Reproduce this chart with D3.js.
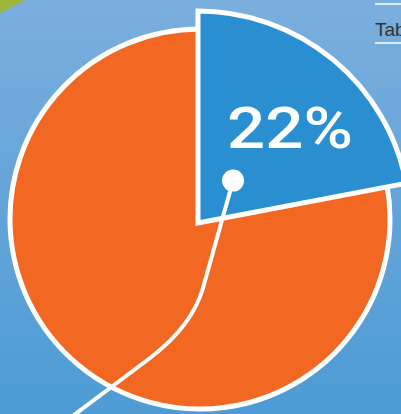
<!doctype HTML>
<html>
<head>
    <style>
        body { margin: 0; overflow: hidden; }
    </style>
    <script src="https://d3js.org/d3.v7.min.js"></script>
</head>
<body>
<div id="chart"></div>
<script>

    // chart data
    var categories = ["Share", "Rest"];
    var values = [22, 78];
    var labels = ["22%", ""];
    var colors = ["#2a8fd0", "#f26722"];

    var canvasWidth = 401;
    var canvasHeight = 414;

    var svg = d3.select("#chart").append("svg")
        .attr("width", canvasWidth)
        .attr("height", canvasHeight)

    // background gradient
    var defs = svg.append("defs");
    var grad = defs.append("linearGradient")
        .attr("id", "bg")
        .attr("x1", 0).attr("y1", 0)
        .attr("x2", 0).attr("y2", 1);
    grad.append("stop").attr("offset", "0%").attr("stop-color", "#7aaedd");
    grad.append("stop").attr("offset", "100%").attr("stop-color", "#4d9bd5");

    svg.append("rect")
        .attr("width", canvasWidth)
        .attr("height", canvasHeight)
        .attr("fill", "url(#bg)")

    // green corner
    svg.append("path")
        .attr("d", "M0,0 L25,0 L0,13 Z")
        .attr("fill", "#9db63a")

    // "Table" heading lines at top right
    svg.append("line")
        .attr("x1", 375).attr("x2", 401)
        .attr("y1", 4).attr("y2", 4)
        .attr("stroke", "#ffffff").attr("stroke-width", 1.5)
    svg.append("line")
        .attr("x1", 375).attr("x2", 401)
        .attr("y1", 43).attr("y2", 43)
        .attr("stroke", "#ffffff").attr("stroke-width", 1.5)
    svg.append("text")
        .attr("x", 375)
        .attr("y", 36)
        .attr("font-family", "Liberation Sans, Arial, sans-serif")
        .attr("font-size", "19px")
        .attr("fill", "#333333")
        .text("Table")

    var pie = d3.pie().sort(null).value(function(d){return d;});
    var arcs = pie(values);

    // big slice (orange)
    var mainCenter = [200, 219];
    var mainArc = d3.arc().innerRadius(0).outerRadius(190);

    // exploded slice (blue), slightly larger
    var sliceCenter = [198, 223];
    var sliceArc = d3.arc().innerRadius(0).outerRadius(212);

    svg.append("g")
        .attr("transform", "translate(" + mainCenter[0] + "," + mainCenter[1] + ")")
        .append("path")
        .attr("d", mainArc(arcs[1]))
        .attr("fill", colors[1])
        .attr("stroke", "#ffffff")
        .attr("stroke-width", 5)
        .attr("stroke-linejoin", "miter")

    var sliceG = svg.append("g")
        .attr("transform", "translate(" + sliceCenter[0] + "," + sliceCenter[1] + ")");

    sliceG.append("path")
        .attr("d", sliceArc(arcs[0]))
        .attr("fill", colors[0])
        .attr("stroke", "#ffffff")
        .attr("stroke-width", 5)
        .attr("stroke-linejoin", "miter")

    // leader line from the slice dot down to the bottom left
    var dot = d3.arc().innerRadius(0).outerRadius(110).centroid(arcs[0]);
    var dx = sliceCenter[0] + dot[0];
    var dy = sliceCenter[1] + dot[1];

    svg.append("path")
        .attr("d", "M" + dx + "," + dy + " L203,288 Q192,326 150,358 L70,418")
        .attr("fill", "none")
        .attr("stroke", "#ffffff")
        .attr("stroke-width", 4)

    svg.append("circle")
        .attr("cx", dx)
        .attr("cy", dy)
        .attr("r", 11)
        .attr("fill", "#ffffff")

    // percentage label
    sliceG.append("text")
        .attr("x", 92)
        .attr("y", -75)
        .attr("text-anchor", "middle")
        .attr("font-family", "Roboto, sans-serif")
        .attr("font-weight", "500")
        .attr("font-size", "57px")
        .attr("fill", "#ffffff")
        .attr("textLength", 126)
        .attr("lengthAdjust", "spacingAndGlyphs")
        .text(labels[0])

</script>
</body>
</html>
